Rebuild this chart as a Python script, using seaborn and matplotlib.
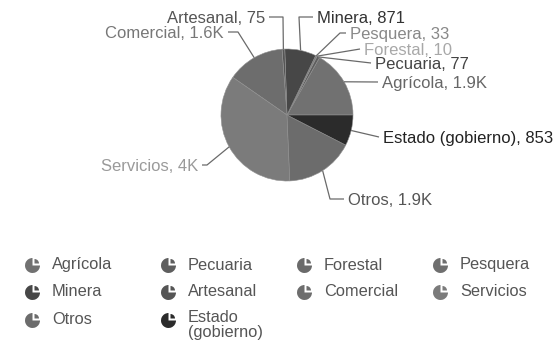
import matplotlib
matplotlib.use("Agg")
import matplotlib.pyplot as plt
import seaborn as sns
import numpy as np
from matplotlib.patches import Wedge

# ---------------- data ----------------
categories = ["Agrícola", "Pecuaria", "Forestal", "Pesquera", "Minera",
              "Artesanal", "Comercial", "Servicios", "Otros", "Estado (gobierno)"]
values = [1900, 77, 10, 33, 871, 75, 1600, 4000, 1900, 853]
value_labels = ["1.9K", "77", "10", "33", "871", "75", "1.6K", "4K", "1.9K", "853"]
legend_labels = ["Agrícola", "Pecuaria", "Forestal", "Pesquera", "Minera",
                 "Artesanal", "Comercial", "Servicios", "Otros", "Estado\n(gobierno)"]

# ---------------- style ----------------
slice_colors = ["#717171", "#5e5e5e", "#6a6a6a", "#6f6f6f", "#474747",
                "#555555", "#6d6d6d", "#7b7b7b", "#6c6c6c", "#2b2b2b"]
label_colors = ["#666666", "#444444", "#a8a8a8", "#888888", "#333333",
                "#555555", "#777777", "#9a9a9a", "#555555", "#222222"]
line_color = "#6a6a6a"

sns.set_theme(style="white")
plt.rcParams['font.family'] = ['Liberation Sans', 'DejaVu Sans']

W, H = 557, 346
CX, CY, R = 287, 115, 66

fig = plt.figure(figsize=(W / 100, H / 100), dpi=100)
ax = fig.add_axes([0, 0, 1, 1])


def P(x, y):
    """pixel (from top-left) -> data coords (pie radius = 1)"""
    return ((x - CX) / R, (CY - y) / R)


wedges, _ = ax.pie(values, colors=slice_colors, startangle=0, counterclock=True,
                   radius=1, center=(0, 0),
                   wedgeprops=dict(linewidth=0.4, edgecolor="#909090"))
ax.set_xlim(-CX / R, (W - CX) / R)
ax.set_ylim(-(H - CY) / R, CY / R)
ax.set_aspect('equal')
ax.axis('off')

# label layout (pixel positions): text anchor, alignment, elbow of leader
label_layout = {
    "Agrícola":          ((382, 82), "left", None),
    "Pecuaria":          ((375, 63), "left", None),
    "Forestal":          ((364, 49), "left", None),
    "Pesquera":          ((350, 33), "left", (340, 33)),
    "Minera":            ((317, 17), "left", (299, 17)),
    "Artesanal":         ((265, 17), "right", (283, 17)),
    "Comercial":         ((224, 32), "right", (238, 32)),
    "Servicios":         ((198, 165), "right", (207, 165)),
    "Otros":             ((348, 199), "left", (330, 199)),
    "Estado (gobierno)": ((383, 137), "left", None),
}

for w, cat, vl, tc in zip(wedges, categories, value_labels, label_colors):
    mid = np.deg2rad((w.theta1 + w.theta2) / 2)
    ex, ey = np.cos(mid), np.sin(mid)
    (tx, ty), ha, elbow = label_layout[cat]
    gap = 4 if ha == "left" else -4
    end = P(tx - gap, ty)
    pts = [(ex, ey)]
    if elbow is not None:
        pts.append(P(*elbow))
    pts.append(end)
    xs, ys = zip(*pts)
    ax.plot(xs, ys, color=line_color, lw=0.9, solid_capstyle="butt")
    ax.text(*P(tx, ty), f"{cat}, {vl}", ha=ha, va="center_baseline",
            fontsize=12, color=tc)

# ---------------- legend (pie icons) ----------------
col_x = [33, 169, 305, 441]
row_y = [265, 292, 320]
icon_r = 7.5 / R
for i, (lab, col) in enumerate(zip(legend_labels, slice_colors)):
    r, c = divmod(i, 4)
    ix, iy = P(col_x[c], row_y[r])
    ax.add_patch(Wedge((ix - 0.5 / R, iy - 0.5 / R), icon_r, 90, 360,
                       facecolor=col, edgecolor="none"))
    ax.add_patch(Wedge((ix + 1.5 / R, iy + 1.5 / R), icon_r * 0.6, 0, 90,
                       facecolor=col, edgecolor="none"))
    tx, ty = P(col_x[c] + 19, row_y[r] + (5 if "\n" in lab else 0))
    ax.text(tx, ty, lab, ha="left", va="center", fontsize=11.8,
            color="#555555", linespacing=1.05)

fig.savefig("out.png", dpi=100, facecolor="white")
